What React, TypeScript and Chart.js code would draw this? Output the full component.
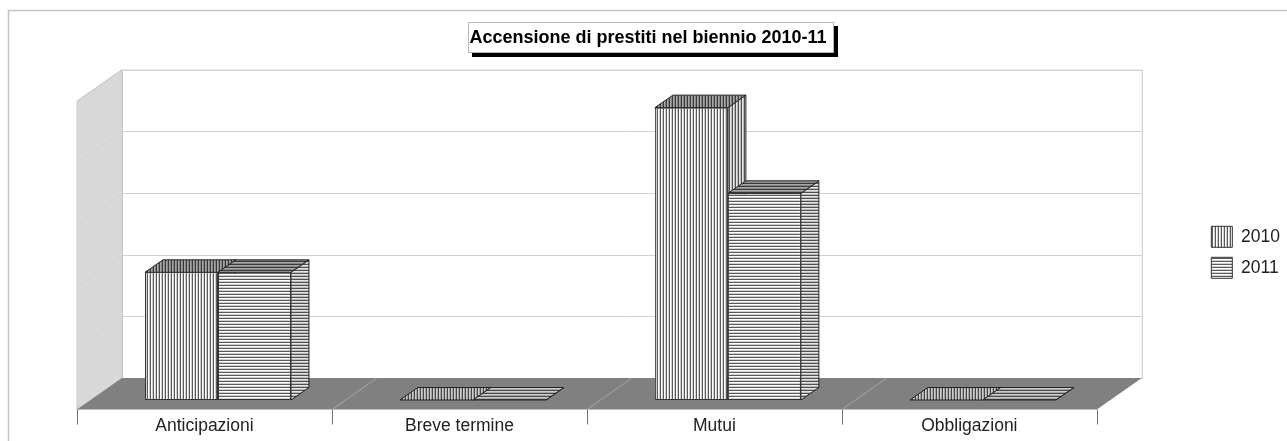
import React, { useEffect, useRef } from "react";
import { Chart, registerables } from "chart.js";

Chart.register(...registerables);

const categories = ["Anticipazioni", "Breve termine", "Mutui", "Obbligazioni"];
const series2010 = [2.07, 0, 4.74, 0];
const series2011 = [2.07, 0, 3.35, 0];
const seriesNames = ["2010", "2011"];
const titleText = "Accensione di prestiti nel biennio 2010-11";

const FONT = "'Liberation Sans', Arial, sans-serif";

function makePattern(vertical: boolean, shade: number) {
  const c = document.createElement("canvas");
  const period = 3;
  c.width = vertical ? period : 1;
  c.height = vertical ? 1 : period;
  const g = c.getContext("2d") as CanvasRenderingContext2D;
  g.fillStyle = "#fff";
  g.fillRect(0, 0, c.width, c.height);
  const cols = ["#5a5a5a", "#ffffff", "#d0d0d0"];
  cols.forEach((col, i) => {
    g.fillStyle = col;
    if (vertical) g.fillRect(i, 0, 1, 1);
    else g.fillRect(0, i, 1, 1);
  });
  if (shade > 0) {
    g.fillStyle = `rgba(0,0,0,${shade})`;
    g.fillRect(0, 0, c.width, c.height);
  }
  return g.createPattern(c, "repeat") as CanvasPattern;
}

const decor = {
  id: "decor3d",
  afterLayout(chart: any) {
    chart.legend.top += 6.5;
    chart.legend.bottom += 6.5;
    chart.legend.left += 3;
    chart.legend.right += 3;
  },
  beforeDraw(chart: any) {
    const { ctx, chartArea: a, scales, width, height } = chart;
    const y = scales.y;
    // offsets of front floor edge and back wall relative to the bar plane
    const fx = -13.5, fy = 9.5, bx = 31.5, by = -22;
    const base = y.getPixelForValue(0);
    const top = y.getPixelForValue(y.max);
    ctx.save();
    ctx.fillStyle = "#fff";
    ctx.fillRect(0, 0, width, height);
    // outer border
    ctx.strokeStyle = "#c4c4c4";
    ctx.lineWidth = 1.5;
    ctx.beginPath();
    ctx.moveTo(8.5, height);
    ctx.lineTo(8.5, 10.5);
    ctx.lineTo(width, 10.5);
    ctx.stroke();
    // left wall
    ctx.fillStyle = "#d9d9d9";
    ctx.beginPath();
    ctx.moveTo(a.left + fx, top + fy);
    ctx.lineTo(a.left + bx, top + by);
    ctx.lineTo(a.left + bx, base + by);
    ctx.lineTo(a.left + fx, base + fy);
    ctx.closePath();
    ctx.fill();
    ctx.strokeStyle = "#c8c8c8";
    ctx.lineWidth = 1;
    ctx.stroke();
    // back wall
    ctx.strokeStyle = "#c8c8c8";
    ctx.beginPath();
    ctx.rect(a.left + bx + 0.5, top + by + 0.5, a.right - a.left, base - top);
    ctx.stroke();
    // grid lines
    ctx.strokeStyle = "#d2d2d2";
    y.ticks.forEach((t: any) => {
      const p = Math.round(y.getPixelForValue(t.value) + by) + 0.5;
      ctx.beginPath();
      ctx.moveTo(a.right + bx, p);
      ctx.lineTo(a.left + bx, p);
      ctx.lineTo(a.left + fx, p - by + fy);
      ctx.stroke();
    });
    // floor
    ctx.fillStyle = "#808080";
    ctx.beginPath();
    ctx.moveTo(a.left + fx, base + fy);
    ctx.lineTo(a.left + bx, base + by);
    ctx.lineTo(a.right + bx, base + by);
    ctx.lineTo(a.right + fx, base + fy);
    ctx.closePath();
    ctx.fill();
    // floor separators and ticks
    const n = categories.length;
    const step = (a.right - a.left) / n;
    for (let i = 0; i <= n; i++) {
      const px = a.left + fx + i * step;
      if (i > 0 && i < n) {
        ctx.strokeStyle = "#a8a8a8";
        ctx.beginPath();
        ctx.moveTo(px, base + fy);
        ctx.lineTo(px + bx - fx, base + by);
        ctx.stroke();
      }
      ctx.strokeStyle = "#707070";
      ctx.beginPath();
      ctx.moveTo(Math.round(px) + 0.5, base + fy);
      ctx.lineTo(Math.round(px) + 0.5, base + fy + 15);
      ctx.stroke();
    }
    // title box
    const tb = chart.titleBlock;
    ctx.font = `bold 18px ${FONT}`;
    const tw = ctx.measureText(titleText).width;
    const cx = (tb.left + tb.right) / 2;
    const bl = Math.round(cx - tw / 2 - 1), bw = Math.round(tw + 9);
    ctx.fillStyle = "#000";
    ctx.fillRect(bl + 4, 26, bw, 31);
    ctx.fillStyle = "#fff";
    ctx.fillRect(bl, 22, bw, 31);
    ctx.strokeStyle = "#b8b8b8";
    ctx.strokeRect(bl + 0.5, 22.5, bw - 1, 30);
    ctx.restore();
  },
  beforeDatasetsDraw(chart: any) {
    const { ctx } = chart;
    const dx = 18, dy = -12.5;
    chart.data.datasets.forEach((ds: any, di: number) => {
      const vertical = di === 0;
      const topFill = makePattern(vertical, 0.35);
      const sideFill = makePattern(vertical, 0.1);
      const flatFill = makePattern(vertical, 0.2);
      chart.getDatasetMeta(di).data.forEach((b: any) => {
        const l = b.x - b.width / 2, r = b.x + b.width / 2, t = b.y, bt = b.base;
        ctx.save();
        ctx.strokeStyle = "#222";
        ctx.lineWidth = 1;
        ctx.fillStyle = sideFill;
        ctx.beginPath();
        ctx.moveTo(r, t);
        ctx.lineTo(r + dx, t + dy);
        ctx.lineTo(r + dx, bt + dy);
        ctx.lineTo(r, bt);
        ctx.closePath();
        ctx.fill();
        ctx.stroke();
        ctx.fillStyle = t === bt ? flatFill : topFill;
        ctx.beginPath();
        ctx.moveTo(l, t);
        ctx.lineTo(l + dx, t + dy);
        ctx.lineTo(r + dx, t + dy);
        ctx.lineTo(r, t);
        ctx.closePath();
        ctx.fill();
        ctx.stroke();
        ctx.restore();
      });
    });
  },
};

export default function App() {
  const ref = useRef<HTMLCanvasElement>(null);
  useEffect(() => {
    const chart = new Chart(ref.current as HTMLCanvasElement, {
      type: "bar",
      data: {
        labels: categories,
        datasets: [
          {
            label: seriesNames[0],
            data: series2010,
            backgroundColor: makePattern(true, 0),
            borderColor: "#333",
            borderWidth: 1,
            borderSkipped: false,
            categoryPercentage: 0.5725,
            barPercentage: 1,
          },
          {
            label: seriesNames[1],
            data: series2011,
            backgroundColor: makePattern(false, 0),
            borderColor: "#333",
            borderWidth: 1,
            borderSkipped: false,
            categoryPercentage: 0.5725,
            barPercentage: 1,
          },
        ],
      } as any,
      options: {
        responsive: false,
        animation: false,
        layout: { padding: { left: 9, right: 0, top: 0, bottom: 0 } },
        scales: {
          x: {
            grid: { display: false },
            border: { display: false },
            ticks: {
              color: "#222",
              font: { family: FONT, size: 17.5 },
              labelOffset: -13.5,
              padding: 8,
              maxRotation: 0,
            },
            afterFit: (s: any) => {
              s.height = 41;
            },
          },
          y: {
            min: 0,
            max: 5,
            grid: { display: false },
            border: { display: false },
            ticks: { display: false, stepSize: 1 },
            afterFit: (s: any) => {
              s.width = 81.5;
            },
          },
          y2: {
            position: "right",
            min: 0,
            max: 5,
            grid: { display: false },
            border: { display: false },
            ticks: { display: false },
            afterFit: (s: any) => {
              s.width = 88;
            },
          },
        },
        plugins: {
          title: {
            display: true,
            text: titleText,
            color: "#000",
            font: { family: FONT, size: 18, weight: "bold" },
            padding: { top: 27, bottom: 43 },
          },
          legend: {
            position: "right",
            fullSize: false,
            labels: {
              boxWidth: 21,
              boxHeight: 21,
              padding: 10,
              color: "#222",
              font: { family: FONT, size: 17.5 },
            },
          },
          tooltip: { enabled: false },
        },
      } as any,
      plugins: [decor as any],
    });
    return () => chart.destroy();
  }, []);
  return (
    <canvas
      ref={ref}
      width={1287}
      height={441}
      style={{ position: "absolute", left: 0, top: 0, display: "block" }}
    />
  );
}
